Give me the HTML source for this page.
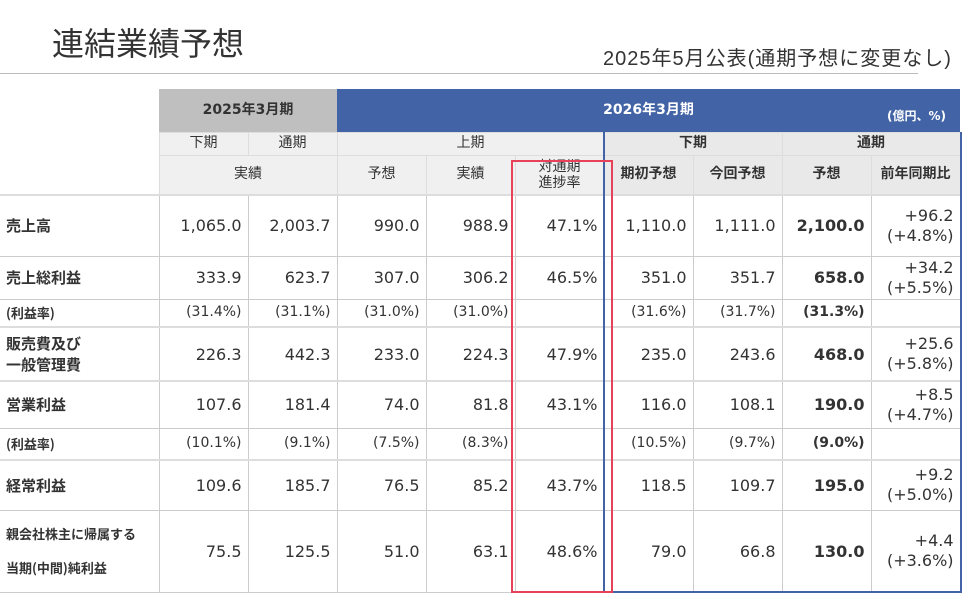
<!DOCTYPE html>
<html><head><meta charset="utf-8"><style>
body{margin:0;width:963px;height:611px;background:#fff;position:relative;overflow:hidden;font-family:"Liberation Sans","Noto Sans CJK JP",sans-serif;color:#333}
.title{position:absolute;left:52px;top:19px;font-size:32px;color:#333}
.sub{position:absolute;left:603px;top:42px;font-size:20px;color:#333;letter-spacing:1px}
.hr{position:absolute;left:0;top:73px;width:918px;height:1px;background:#bbb}
table{position:absolute;left:0;top:89px;border-collapse:collapse;table-layout:fixed;width:960px;font-family:"DejaVu Sans","Noto Sans CJK JP",sans-serif}
td{border:1px solid #ccc;padding:0 6px;font-size:16px;line-height:19px;text-align:right;white-space:nowrap;overflow:hidden}
td.l{text-align:left;font-weight:bold;font-size:15px;padding-left:6px;border-left:none;font-family:"Noto Sans CJK JP",sans-serif}
td.h{background:#f0f0f0;text-align:center;font-size:14px;border-color:#ddd}
td.hb{background:#e9e9e9;text-align:center;font-size:14px;font-weight:bold;border-color:#ddd}
td.g{background:#bfbfbf;text-align:center;font-weight:bold;font-size:14px;border:none}
td.b{background:#4263a5;color:#fff;text-align:center;font-weight:bold;font-size:14px;border:none;position:relative}
td.s{font-size:14px}
tr.d td{border-top:1px dotted #bbb}
tr.thick td{border-top:2px solid #ddd}
b{font-weight:bold}
.r2{line-height:20px}
</style></head><body>
<div class="title">連結業績予想</div>
<div class="sub">2025年5月公表(通期予想に変更なし)</div>
<div class="hr"></div>
<table>
<colgroup><col style="width:159px"><col span="9" style="width:89px"></colgroup>
<tr style="height:43px"><td rowspan="3" style="border:none"></td><td class="g" colspan="2">2025年3月期</td><td class="b" colspan="7">2026年3月期<span style="position:absolute;right:14px;top:18px;font-size:12px">(億円、%)</span></td></tr>
<tr style="height:23px"><td class="h">下期</td><td class="h">通期</td><td class="h" colspan="3">上期</td><td class="hb" colspan="2">下期</td><td class="hb" colspan="2">通期</td></tr>
<tr style="height:40px"><td class="h" colspan="2">実績</td><td class="h">予想</td><td class="h">実績</td><td class="h" style="line-height:16px">対通期<br>進捗率</td><td class="hb">期初予想</td><td class="hb">今回予想</td><td class="hb">予想</td><td class="hb">前年同期比</td></tr>
<tr class="thick" style="height:61px"><td class="l">売上高</td><td>1,065.0</td><td>2,003.7</td><td>990.0</td><td>988.9</td><td>47.1%</td><td>1,110.0</td><td>1,111.0</td><td><b>2,100.0</b></td><td class="r2">+96.2<br>(+4.8%)</td></tr>
<tr style="height:43px"><td class="l">売上総利益</td><td>333.9</td><td>623.7</td><td>307.0</td><td>306.2</td><td>46.5%</td><td>351.0</td><td>351.7</td><td><b>658.0</b></td><td class="r2">+34.2<br>(+5.5%)</td></tr>
<tr class="d" style="height:28px"><td class="l" style="font-size:13px">(利益率)</td><td class="s">(31.4%)</td><td class="s">(31.1%)</td><td class="s">(31.0%)</td><td class="s">(31.0%)</td><td></td><td class="s">(31.6%)</td><td class="s">(31.7%)</td><td class="s"><b>(31.3%)</b></td><td></td></tr>
<tr class="thick" style="height:54px"><td class="l" style="line-height:21px">販売費及び<br>一般管理費</td><td>226.3</td><td>442.3</td><td>233.0</td><td>224.3</td><td>47.9%</td><td>235.0</td><td>243.6</td><td><b>468.0</b></td><td class="r2">+25.6<br>(+5.8%)</td></tr>
<tr class="thick" style="height:47px"><td class="l">営業利益</td><td>107.6</td><td>181.4</td><td>74.0</td><td>81.8</td><td>43.1%</td><td>116.0</td><td>108.1</td><td><b>190.0</b></td><td class="r2">+8.5<br>(+4.7%)</td></tr>
<tr class="d" style="height:32px"><td class="l" style="font-size:13px">(利益率)</td><td class="s">(10.1%)</td><td class="s">(9.1%)</td><td class="s">(7.5%)</td><td class="s">(8.3%)</td><td></td><td class="s">(10.5%)</td><td class="s">(9.7%)</td><td class="s"><b>(9.0%)</b></td><td></td></tr>
<tr class="thick" style="height:50px"><td class="l">経常利益</td><td>109.6</td><td>185.7</td><td>76.5</td><td>85.2</td><td>43.7%</td><td>118.5</td><td>109.7</td><td><b>195.0</b></td><td class="r2">+9.2<br>(+5.0%)</td></tr>
<tr style="height:82px"><td class="l" style="font-size:13px;line-height:34px">親会社株主に帰属する<br>当期(中間)純利益</td><td>75.5</td><td>125.5</td><td>51.0</td><td>63.1</td><td>48.6%</td><td>79.0</td><td>66.8</td><td><b>130.0</b></td><td class="r2">+4.4<br>(+3.6%)</td></tr>
</table>
<div style="position:absolute;left:603px;top:132px;width:355px;height:459px;border-left:2px solid #4263a5;border-right:2px solid #4263a5;border-bottom:2px solid #4263a5"></div>
<div style="position:absolute;left:511px;top:160px;width:98px;height:429px;border:2px solid #e8425a"></div>
</body></html>
